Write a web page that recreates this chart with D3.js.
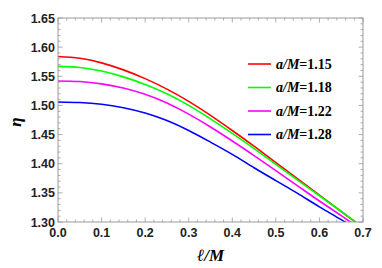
<!DOCTYPE html>
<html>
<head>
<meta charset="utf-8">
<script src="https://cdn.jsdelivr.net/npm/d3@7"></script>
<style>
  body { margin: 0; background: #fff; }
  svg { display: block; }
  .tick-label { font-family: "Liberation Sans", Arial, sans-serif; font-weight: bold; font-size: 12.5px; fill: #222; }
  .math { font-family: "Liberation Serif", "Times New Roman", serif; font-weight: bold; }
</style>
</head>
<body>
<svg id="chart" width="382" height="268"></svg>
<script>
const width = 382;
const height = 268;
const margin = { left: 58, top: 18, right: 19, bottom: 46 };

// l/M sample positions
const lValues = [0, 0.05, 0.1, 0.15, 0.2, 0.25, 0.3, 0.35, 0.4, 0.45, 0.5, 0.55, 0.6, 0.65, 0.7];
// eta for each a/M
const eta115 = [1.584, 1.581, 1.573, 1.561, 1.546, 1.528, 1.507, 1.483, 1.457, 1.430, 1.402, 1.374, 1.346, 1.318, 1.290];
const eta118 = [1.567, 1.565, 1.559, 1.549, 1.536, 1.520, 1.500, 1.477, 1.452, 1.426, 1.399, 1.372, 1.345, 1.318, 1.291];
const eta122 = [1.542, 1.541, 1.537, 1.530, 1.519, 1.504, 1.485, 1.463, 1.439, 1.414, 1.388, 1.362, 1.336, 1.311, 1.285];
const eta128 = [1.506, 1.505, 1.502, 1.496, 1.487, 1.474, 1.457, 1.437, 1.416, 1.393, 1.371, 1.349, 1.326, 1.304, 1.281];

const seriesNames = ["1.15", "1.18", "1.22", "1.28"];
const seriesColors = ["#ff0000", "#00ff00", "#ff00ff", "#0000ff"];
const seriesData = [eta115, eta118, eta122, eta128];

const xTicks = [0, 0.1, 0.2, 0.3, 0.4, 0.5, 0.6, 0.7];
const yTicks = [1.30, 1.35, 1.40, 1.45, 1.50, 1.55, 1.60, 1.65];

const svg = d3.select("#chart");

const x = d3.scaleLinear().domain([0, 0.7]).range([margin.left, width - margin.right]);
const y = d3.scaleLinear().domain([1.30, 1.65]).range([height - margin.bottom, margin.top]);

const frameColor = "#999";

// curves (clipped to the frame)
svg.append("clipPath").attr("id", "clip")
  .append("rect")
  .attr("x", x(0)).attr("y", y(1.65))
  .attr("width", x(0.7) - x(0)).attr("height", y(1.30) - y(1.65));

const line = d3.line()
  .x(d => x(d[0]))
  .y(d => y(d[1]))
  .curve(d3.curveNatural);

seriesData.forEach((vals, i) => {
  const pts = lValues.map((l, j) => [l, vals[j]]);
  svg.append("path")
    .attr("clip-path", "url(#clip)")
    .attr("d", line(pts))
    .attr("fill", "none")
    .attr("stroke", seriesColors[i])
    .attr("stroke-width", 1.6);
});

// frame
svg.append("rect")
  .attr("x", x(0)).attr("y", y(1.65))
  .attr("width", x(0.7) - x(0)).attr("height", y(1.30) - y(1.65))
  .attr("fill", "none").attr("stroke", frameColor).attr("stroke-width", 1);

// ticks on all four sides, pointing inward
const xMinor = d3.range(0, 0.7001, 0.02);
const yMinor = d3.range(1.30, 1.6501, 0.01);
const ticksG = svg.append("g").attr("stroke", frameColor).attr("stroke-width", 0.8);

xMinor.forEach(v => {
  const major = xTicks.some(t => Math.abs(t - v) < 1e-6);
  const len = major ? 4.5 : 2.5;
  ticksG.append("line").attr("x1", x(v)).attr("x2", x(v))
    .attr("y1", y(1.30)).attr("y2", y(1.30) - len);
  ticksG.append("line").attr("x1", x(v)).attr("x2", x(v))
    .attr("y1", y(1.65)).attr("y2", y(1.65) + len);
});
yMinor.forEach(v => {
  const major = yTicks.some(t => Math.abs(t - v) < 1e-6);
  const len = major ? 4.5 : 2.5;
  ticksG.append("line").attr("y1", y(v)).attr("y2", y(v))
    .attr("x1", x(0)).attr("x2", x(0) + len);
  ticksG.append("line").attr("y1", y(v)).attr("y2", y(v))
    .attr("x1", x(0.7)).attr("x2", x(0.7) - len);
});

// tick labels
svg.selectAll(".xl").data(xTicks).enter().append("text")
  .attr("class", "tick-label")
  .attr("x", d => x(d)).attr("y", y(1.30) + 15)
  .attr("text-anchor", "middle")
  .text(d => d.toFixed(1));

svg.selectAll(".yl").data(yTicks).enter().append("text")
  .attr("class", "tick-label")
  .attr("x", x(0) - 3).attr("y", d => y(d) + 4.5)
  .attr("text-anchor", "end")
  .text(d => d.toFixed(2));

// axis titles
svg.append("text").attr("class", "math")
  .attr("x", (x(0) + x(0.7)) / 2).attr("y", 261)
  .attr("text-anchor", "middle")
  .attr("font-size", 17).attr("font-style", "italic")
  .text("\u2113/M");

svg.append("text").attr("class", "math")
  .attr("transform", "translate(21," + (y(1.475) + 2) + ") rotate(-90)")
  .attr("text-anchor", "middle")
  .attr("font-size", 17).attr("font-style", "italic")
  .text("\u03b7");

// legend
const legend = svg.append("g");
seriesNames.forEach((name, i) => {
  const ly = 64 + i * 23.5;
  legend.append("line")
    .attr("x1", 248).attr("x2", 271)
    .attr("y1", ly).attr("y2", ly)
    .attr("stroke", seriesColors[i]).attr("stroke-width", 1.6);
  const t = legend.append("text").attr("class", "math")
    .attr("x", 276).attr("y", ly + 4.5).attr("font-size", 14);
  t.append("tspan").attr("font-style", "italic").text("a/M");
  t.append("tspan").text("=" + name);
});
</script>
</body>
</html>
